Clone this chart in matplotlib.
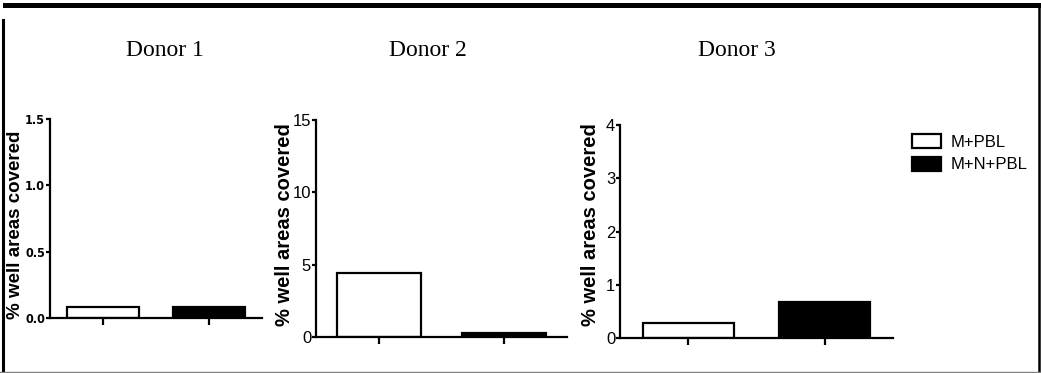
import matplotlib
matplotlib.use("Agg")
import matplotlib.pyplot as plt
from matplotlib.patches import Patch
from matplotlib.lines import Line2D

# data
donors = ["Donor 1", "Donor 2", "Donor 3"]
groups = ["M+PBL", "M+N+PBL"]
mpbl = [0.08, 4.4, 0.28]
mnpbl = [0.08, 0.25, 0.68]
ymax = [1.5, 15, 4]
yticks = [[0.0, 0.5, 1.0, 1.5], [0, 5, 10, 15], [0, 1, 2, 3, 4]]
ytick_labels = [["0.0", "0.5", "1.0", "1.5"], ["0", "5", "10", "15"], ["0", "1", "2", "3", "4"]]
ylabel = "% well areas covered"

W, H = 1041, 373
fig = plt.figure(figsize=(W / 100, H / 100), dpi=100)

# axes boxes in pixels: left, right, bottom, top
boxes = [(50, 262, 318, 119), (316, 567, 337, 120), (620, 893, 338, 125)]
label_x = [16, 285, 590]
title_x = [165, 428, 737]

for i in range(3):
    l, r, b, t = boxes[i]
    ax = fig.add_axes([l / W, 1 - b / H, (r - l) / W, (b - t) / H])
    ax.bar([0, 1], [mpbl[i], mnpbl[i]], width=0.67, color=["white", "black"],
           edgecolor="black", linewidth=1.6)
    ax.set_xlim(-0.5, 1.5)
    ax.set_ylim(0, ymax[i])
    ax.set_xticks([0, 1])
    ax.set_xticklabels(["", ""])
    ax.set_yticks(yticks[i])
    ax.spines["top"].set_visible(False)
    ax.spines["right"].set_visible(False)
    ax.spines["left"].set_linewidth(1.6)
    ax.spines["bottom"].set_linewidth(1.6)
    ax.tick_params(axis="x", direction="out", width=1.6, length=5)
    ax.tick_params(axis="y", direction="out", width=1.6, length=3, pad=0.5)
    if i == 0:
        ax.set_yticklabels(ytick_labels[i], fontsize=9, fontweight="bold",
                           family="DejaVu Sans", fontstretch="condensed")
    else:
        ax.set_yticklabels(ytick_labels[i], fontsize=12, family="Liberation Sans")
    fig.text(label_x[i] / W, 1 - 225 / H, ylabel, rotation=90, ha="center", va="center",
             fontsize=13.5 if i == 0 else 14.5, fontweight="bold", family="Liberation Sans")
    fig.text(title_x[i] / W, 1 - 50 / H, donors[i], ha="center", va="center",
             fontsize=17, family="Liberation Serif")

handles = [Patch(facecolor="white", edgecolor="black", linewidth=1.6, label=groups[0]),
           Patch(facecolor="black", edgecolor="black", linewidth=1.6, label=groups[1])]
fig.legend(handles=handles, loc="upper left", bbox_to_anchor=(904 / W, 1 - 126 / H),
           frameon=False, borderpad=0, handlelength=1.7, handleheight=0.9,
           handletextpad=0.6, labelspacing=0.4,
           prop={"family": "Liberation Sans", "size": 12})

# frame around the figure
fig.add_artist(Line2D([5 / W, 1], [1 - 4.5 / H, 1 - 4.5 / H], color="black", linewidth=3.6,
                      transform=fig.transFigure))
fig.add_artist(Line2D([2.5 / W, 2.5 / W], [0, 1 - 20 / H], color="black", linewidth=2.2,
                      transform=fig.transFigure))
fig.add_artist(Line2D([1 - 2 / W, 1 - 2 / W], [0, 1 - 4 / H], color="black", linewidth=1.8,
                      transform=fig.transFigure))
fig.add_artist(Line2D([0, 1], [0.8 / H, 0.8 / H], color="gray", linewidth=1,
                      transform=fig.transFigure))

fig.savefig("out.png", dpi=100)
